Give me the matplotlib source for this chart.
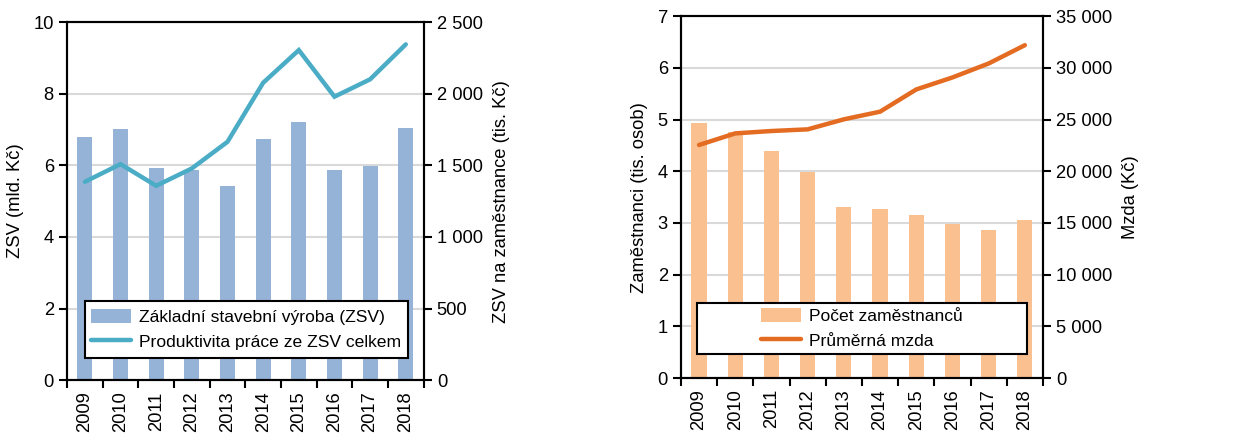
import numpy as np
import matplotlib.pyplot as plt
from matplotlib.patches import Rectangle
from matplotlib.ticker import FuncFormatter, MultipleLocator

plt.rcParams['font.family'] = ['Liberation Sans', 'DejaVu Sans']

# === Data ===
years = ['2009', '2010', '2011', '2012', '2013', '2014', '2015', '2016', '2017', '2018']

zsv_mld = [6.78, 7.00, 5.92, 5.87, 5.43, 6.73, 7.22, 5.87, 5.97, 7.05]
produktivita_tis = [1385, 1508, 1357, 1478, 1664, 2076, 2304, 1979, 2100, 2344]

zamestnanci_tis = [4.94, 4.76, 4.39, 3.98, 3.31, 3.27, 3.16, 2.97, 2.86, 3.05]
mzda_kc = [22540, 23660, 23890, 24050, 25020, 25760, 27910, 29070, 30420, 32190]

BAR_BLUE = '#95B3D7'
LINE_TEAL = '#4BACC6'
BAR_ORANGE = '#FAC090'
LINE_ORANGE = '#E46C22'
GRID = '#D9D9D9'
FS = 13.2
LEG_FS = 12.6


def space_thousands(v, pos):
    return f"{int(round(v)):,}".replace(',', '\u00a0')


def style_axes(ax, ax2, n):
    for a in (ax, ax2):
        for s in a.spines.values():
            s.set_linewidth(1.5)
            s.set_color('black')
    ax.set_xlim(-0.5, n - 0.5)
    ax.set_xticks(np.arange(n))
    ax.set_xticklabels(years, rotation=90, fontsize=FS)
    ax.tick_params(axis='x', length=0, pad=8)
    ax.set_xticks(np.arange(-0.5, n, 1.0), minor=True)
    ax.tick_params(axis='x', which='minor', length=6, width=1.5, direction='out')
    ax.tick_params(axis='y', labelsize=FS, length=6, width=1.5, direction='out')
    ax2.tick_params(axis='y', labelsize=FS, length=6, width=1.5, direction='out')
    ax.yaxis.grid(True, color=GRID, linewidth=1.5)
    ax.set_axisbelow(True)


def draw_panel(rect, bars, line, bar_color, line_color, ymax, ystep,
               y2max, y2step, ylabel, y2label, bar_label, line_label, leg_box):
    ax = fig.add_axes(rect)
    ax2 = ax.twinx()
    x = np.arange(len(years))
    b = ax.bar(x, bars, width=0.42, color=bar_color, zorder=2)
    l, = ax2.plot(x, line, color=line_color, linewidth=3.2, solid_capstyle='round',
                  solid_joinstyle='miter', zorder=3)
    ax.set_ylim(0, ymax)
    ax.yaxis.set_major_locator(MultipleLocator(ystep))
    ax2.set_ylim(0, y2max)
    ax2.yaxis.set_major_locator(MultipleLocator(y2step))
    ax2.yaxis.set_major_formatter(FuncFormatter(space_thousands))
    ax.set_ylabel(ylabel, fontsize=FS, labelpad=7)
    ax2.set_ylabel(y2label, fontsize=FS, labelpad=7)
    style_axes(ax, ax2, len(years))

    # legend frame drawn as a white box, entries centred inside it
    x0, y0, w, h = leg_box
    ax2.add_patch(Rectangle((x0, y0), w, h, transform=ax2.transAxes, facecolor='white',
                            edgecolor='black', linewidth=1.5, zorder=4, clip_on=False))
    leg = ax2.legend([b, l], [bar_label, line_label], loc='center',
                     bbox_to_anchor=(x0 + w / 2, y0 + h / 2), fontsize=LEG_FS,
                     frameon=False, borderaxespad=0, borderpad=0,
                     handlelength=2.3, handleheight=0.85, handletextpad=0.45,
                     labelspacing=0.5)
    leg.set_zorder(5)
    return ax, ax2


fig = plt.figure(figsize=(12.35, 4.36), dpi=100)

draw_panel([0.0543, 0.128, 0.2887, 0.8215], zsv_mld, produktivita_tis, BAR_BLUE, LINE_TEAL,
           10, 2, 2500, 500, 'ZSV (mld. Kč)', 'ZSV na zaměstnance (tis. Kč)',
           'Základní stavební výroba (ZSV)', 'Produktivita práce ze ZSV celkem',
           (0.05, 0.063, 0.905, 0.157))

draw_panel([0.5514, 0.133, 0.2931, 0.830], zamestnanci_tis, mzda_kc, BAR_ORANGE, LINE_ORANGE,
           7, 1, 35000, 5000, 'Zaměstnanci (tis. osob)', 'Mzda (Kč)',
           'Počet zaměstnanců', 'Průměrná mzda',
           (0.045, 0.066, 0.91, 0.142))

fig.savefig('out.png', dpi=100)
